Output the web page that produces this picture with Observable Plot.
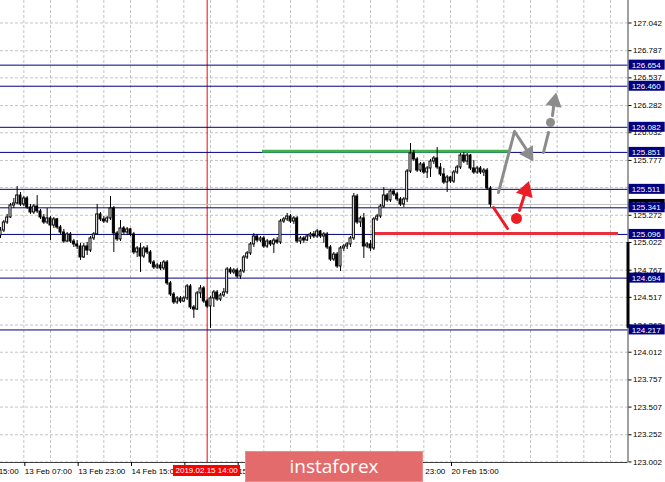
<!DOCTYPE html>
<html>
<head>
<meta charset="utf-8">
<script src="https://cdn.jsdelivr.net/npm/d3@7"></script>
<script src="https://cdn.jsdelivr.net/npm/@observablehq/plot@0.6"></script>
<style>
  html, body { margin: 0; padding: 0; background: #ffffff; }
  #wrap { position: relative; width: 665px; height: 482px; overflow: hidden; background: #ffffff; }
  #logo { position: absolute; background: #e36b6b; color: #ffffff; font-family: "Open Sans", sans-serif; font-size: 19px; text-align: center; box-sizing: border-box; border: 1px solid #e98c8c; }
  #stamp { position: absolute; background: #ff0000; color: #ffffff; font-family: "Liberation Sans", Arial, sans-serif; font-size: 8px; text-align: center; }
</style>
</head>
<body>
<div id="wrap"></div>
<script>
// ---- candle data (H1 bars, index 0 = 13 Feb 00:00) ----
const open = [
125.086,125.132,125.206,125.252,125.362,125.381,125.454,125.372,125.427,125.344,
125.298,125.353,125.307,125.252,125.206,125.243,125.178,125.234,125.160,125.114,
125.031,125.096,125.031,125.004,124.985,124.884,124.985,124.948,125.059,125.096,
125.280,125.234,125.215,125.243,125.335,125.105,125.050,125.151,125.114,125.142,
125.096,124.930,124.967,124.893,124.967,124.930,124.838,124.792,124.810,124.783,
124.838,124.645,124.543,124.470,124.507,124.479,124.507,124.617,124.424,124.405,
124.553,124.599,124.479,124.433,124.507,124.562,124.497,124.534,124.562,124.773,
124.746,124.764,124.709,124.755,124.884,124.921,125.004,125.077,125.040,125.059,
124.985,125.031,125.004,125.040,125.022,125.215,125.234,125.261,125.215,125.243,
125.031,125.059,125.040,125.077,125.096,125.077,125.123,125.077,125.096,124.976,
124.865,124.911,124.801,124.967,124.985,125.004,125.059,125.445,125.206,125.243,
124.985,125.004,124.967,125.234,125.261,125.353,125.454,125.409,125.491,125.464,
125.418,125.372,125.418,125.675,125.841,125.786,125.684,125.740,125.666,125.703,
125.767,125.795,125.712,125.648,125.574,125.620,125.583,125.666,125.712,125.822,
125.767,125.822,125.703,125.666,125.703,125.666,125.684,125.519];
const high = [
125.160,125.225,125.280,125.381,125.427,125.537,125.482,125.445,125.445,125.372,
125.372,125.454,125.326,125.280,125.335,125.261,125.252,125.243,125.178,125.142,
125.114,125.114,125.050,125.040,125.013,125.013,125.022,125.077,125.114,125.372,
125.298,125.261,125.261,125.445,125.353,125.123,125.225,125.169,125.160,125.151,
125.114,124.985,125.013,124.985,124.994,124.948,124.856,124.829,124.838,124.856,
124.856,124.663,124.562,124.525,124.525,124.525,124.635,124.635,124.442,124.571,
124.626,124.617,124.497,124.525,124.580,124.580,124.553,124.599,124.792,124.792,
124.783,124.783,124.773,124.902,124.939,125.022,125.105,125.096,125.077,125.077,
125.050,125.040,125.059,125.068,125.234,125.252,125.289,125.280,125.261,125.261,
125.077,125.077,125.096,125.114,125.123,125.142,125.132,125.114,125.114,124.994,
124.930,124.930,124.985,125.004,125.022,125.077,125.473,125.464,125.261,125.289,
125.022,125.040,125.252,125.280,125.372,125.528,125.473,125.510,125.510,125.482,
125.436,125.436,125.694,125.933,125.869,125.804,125.758,125.758,125.721,125.786,
125.813,125.896,125.749,125.703,125.639,125.629,125.684,125.731,125.841,125.850,
125.841,125.832,125.777,125.721,125.721,125.703,125.703,125.537];
const low = [
125.059,125.114,125.188,125.243,125.335,125.372,125.353,125.353,125.326,125.280,
125.280,125.289,125.234,125.188,125.188,125.040,125.151,125.142,125.096,125.013,
125.022,125.013,124.976,124.957,124.856,124.875,124.902,124.930,125.040,125.086,
125.215,125.197,125.197,125.225,124.930,125.031,125.031,125.096,125.086,125.077,
124.911,124.884,124.746,124.875,124.911,124.819,124.773,124.773,124.764,124.764,
124.626,124.525,124.451,124.451,124.460,124.470,124.488,124.405,124.323,124.396,
124.507,124.460,124.415,124.231,124.424,124.479,124.479,124.516,124.543,124.727,
124.727,124.691,124.681,124.737,124.865,124.902,124.976,125.022,125.022,124.967,
124.967,124.985,124.921,125.004,125.004,125.197,125.215,125.197,125.188,125.013,
125.004,125.013,125.031,125.050,125.059,125.059,125.059,125.013,124.957,124.847,
124.847,124.783,124.755,124.939,124.957,124.976,125.040,125.188,125.160,124.875,
124.967,124.939,124.948,125.215,125.243,125.335,125.390,125.390,125.445,125.399,
125.353,125.344,125.390,125.657,125.767,125.666,125.666,125.648,125.611,125.620,
125.740,125.694,125.629,125.556,125.482,125.565,125.565,125.648,125.694,125.749,
125.731,125.684,125.648,125.648,125.648,125.629,125.501,125.344];
const close = [
125.132,125.206,125.252,125.362,125.381,125.454,125.372,125.427,125.344,125.298,
125.353,125.307,125.252,125.206,125.243,125.178,125.234,125.160,125.114,125.031,
125.096,125.031,125.004,124.985,124.884,124.985,124.948,125.059,125.096,125.280,
125.234,125.215,125.243,125.335,125.105,125.050,125.151,125.114,125.142,125.096,
124.930,124.967,124.893,124.967,124.930,124.838,124.792,124.810,124.783,124.838,
124.645,124.543,124.470,124.507,124.479,124.507,124.617,124.424,124.405,124.553,
124.599,124.479,124.433,124.507,124.562,124.497,124.534,124.562,124.773,124.746,
124.764,124.709,124.755,124.884,124.921,125.004,125.077,125.040,125.059,124.985,
125.031,125.004,125.040,125.022,125.215,125.234,125.261,125.215,125.243,125.031,
125.059,125.040,125.077,125.096,125.077,125.123,125.077,125.096,124.976,124.865,
124.911,124.801,124.967,124.985,125.004,125.059,125.445,125.206,125.243,124.985,
125.004,124.967,125.234,125.261,125.353,125.454,125.409,125.491,125.464,125.418,
125.372,125.418,125.675,125.841,125.786,125.684,125.740,125.666,125.703,125.767,
125.795,125.712,125.648,125.574,125.620,125.583,125.666,125.712,125.822,125.767,
125.822,125.703,125.666,125.703,125.666,125.684,125.519,125.372];

// ---- horizontal levels and axis ticks ----
const levels = [126.654, 126.460, 126.082, 125.851, 125.511, 125.341, 125.096, 124.694, 124.217];
const yTicks = [127.042,126.787,126.537,126.282,126.032,125.777,125.527,125.272,125.022,
                124.767,124.517,124.262,124.012,123.757,123.507,123.252,123.002];
// tick labels that the reference covers completely with a price box
const yHiddenLabels = [125.527];
const xTickIdx = [-9, 7, 23, 39, 55, 71, 87, 103, 119, 135];
// empty strings: labels fully covered in the reference (by the time stamp / the logo)
const xTickLabels = ["12 Feb 15:00","13 Feb 07:00","13 Feb 23:00","14 Feb 15:00","",
                     "15 Feb 23:00","","","19 Feb 23:00","20 Feb 15:00"];
const gridIdx = [7,15,23,31,39,47,55,63,71,79,87,95,103,111,119,127,135,143,151,159,167,175,183];
const markerIdx = 62;
const markerLabel = "2019.02.15 14:00";
const xDomain = [0, 188.25];
const yDomain = [122.997, 127.249];

// ---- annotations (bar index, price) ----
const greenLevel = [{i1: 78.6, i2: 152.4, p: 125.862}];
const redLevel = [{i1: 111.6, i2: 185.4, p: 125.105}];
const grayLines = [
  {g: "a", i: 149.4, p: 125.482}, {g: "a", i: 154.2, p: 126.043}, {g: "a", i: 157.9, p: 125.872},
  {g: "b", i: 162.9, p: 125.850}, {g: "b", i: 164.4, p: 126.034},
  {g: "c", i: 165.6, p: 126.191}, {g: "c", i: 166.0, p: 126.290}];
const grayDots = [{i: 165.0, p: 126.126}];
const grayHeads = [{i: 158.4, p: 125.840, rot: 148}, {i: 166.2, p: 126.318, rot: 10}];
const redLines = [
  {g: "a", i: 147.9, p: 125.344}, {g: "a", i: 152.1, p: 125.151},
  {g: "b", i: 155.7, p: 125.316}, {g: "b", i: 157.3, p: 125.470}];
const redDots = [{i: 154.8, p: 125.243}];
const redHeads = [{i: 157.6, p: 125.500, rot: 18}];

const candles = close.map((c, i) => ({i, open: open[i], high: high[i], low: low[i], close: c}));
const bid = close[close.length - 1];
const labelOf = new Map(xTickIdx.map((d, k) => [d, xTickLabels[k]]));

const NAVY = "#000080";
const GRID = "#c4c4c4";
const FONT = "Liberation Sans, Arial, sans-serif";

const plot = Plot.plot({
  width: 665,
  height: 482,
  marginLeft: 0,
  marginRight: 37.5,
  marginTop: 0,
  marginBottom: 20,
  x: {domain: xDomain},
  y: {domain: yDomain},
  style: {fontFamily: FONT, fontSize: "8px", background: "#ffffff", color: "#000000", overflow: "visible"},
  marks: [
    Plot.gridY(yTicks, {stroke: GRID, strokeOpacity: 1, strokeDasharray: "3,2"}),
    Plot.gridX(gridIdx, {stroke: GRID, strokeOpacity: 1, strokeDasharray: "3,2"}),
    Plot.ruleX([markerIdx], {stroke: "#ff0000", strokeWidth: 1}),
    Plot.ruleY([bid], {stroke: "#c0c0c0", strokeWidth: 1}),
    Plot.ruleY(levels, {stroke: NAVY, strokeWidth: 1}),
    Plot.ruleY(greenLevel, {x1: "i1", x2: "i2", y: "p", stroke: "#3cb44b", strokeWidth: 3}),
    Plot.ruleY(redLevel, {x1: "i1", x2: "i2", y: "p", stroke: "#e8303c", strokeWidth: 3}),
    // candles
    Plot.ruleX(candles, {x: "i", y1: "low", y2: "high", stroke: "#000000", strokeWidth: 1}),
    Plot.rect(candles, {
      x1: d => d.i - 0.3, x2: d => d.i + 0.3, y1: "open", y2: "close",
      fill: d => d.close >= d.open ? "#ffffff" : "#000000", stroke: "#000000", strokeWidth: 1
    }),
    // annotations
    Plot.line(grayLines, {x: "i", y: "p", z: "g", stroke: "#8c8c8c", strokeWidth: 3}),
    Plot.dot(grayDots, {x: "i", y: "p", r: 4.5, fill: "#8c8c8c"}),
    Plot.dot(grayHeads, {x: "i", y: "p", symbol: "triangle", r: 6, rotate: "rot", fill: "#8c8c8c"}),
    Plot.line(redLines, {x: "i", y: "p", z: "g", stroke: "#ee1c25", strokeWidth: 3}),
    Plot.dot(redDots, {x: "i", y: "p", r: 5.5, fill: "#ee1c25"}),
    Plot.dot(redHeads, {x: "i", y: "p", symbol: "triangle", r: 6.5, rotate: "rot", fill: "#ee1c25"}),
    // frame (bottom + right)
    Plot.ruleY([yDomain[0]], {stroke: "#404040", strokeWidth: 1}),
    Plot.ruleX([xDomain[1]], {stroke: "#404040", strokeWidth: 1}),
    Plot.ruleX([xDomain[1]], {y1: 125.022, y2: 124.232, stroke: "#000000", strokeWidth: 3}),
    // axes
    Plot.axisY(yTicks, {anchor: "right", tickSize: 3, tickPadding: 2, fontSize: 8,
                        tickFormat: d => yHiddenLabels.includes(d) ? "" : d.toFixed(3)}),
    Plot.axisX(xTickIdx, {anchor: "bottom", tickSize: 4, tickPadding: 2, textAnchor: "start", dx: 1,
                          tickFormat: d => labelOf.get(d), fontSize: 8}),
    // price labels on the right axis
    Plot.rect([bid], {x1: 188.6, x2: 199.4, y1: d => d, y2: d => d, insetTop: -5, insetBottom: -5, fill: "#000000"}),
    Plot.text([bid], {x: 189.4, y: d => d, text: d => d.toFixed(3), textAnchor: "start", fill: "#ffffff", fontSize: 8}),
    Plot.rect(levels, {x1: 188.6, x2: 199.4, y1: d => d, y2: d => d, insetTop: -5, insetBottom: -5, fill: NAVY}),
    Plot.text(levels, {x: 189.4, y: d => d, text: d => d.toFixed(3), textAnchor: "start", fill: "#ffffff", fontSize: 8})
  ]
});

const wrap = document.getElementById("wrap");
wrap.appendChild(plot);

// red time stamp under the marker line
const mx = plot.scale("x").apply(markerIdx);
const stamp = document.createElement("div");
stamp.id = "stamp";
stamp.textContent = markerLabel;
stamp.style.left = (mx - 33.5) + "px";
stamp.style.top = "465px";
stamp.style.width = "67px";
stamp.style.height = "11px";
stamp.style.lineHeight = "11px";
wrap.appendChild(stamp);

// watermark logo
const logo = document.createElement("div");
logo.id = "logo";
logo.textContent = "instaforex";
logo.style.left = "245px";
logo.style.top = "451px";
logo.style.width = "178px";
logo.style.height = "31px";
logo.style.lineHeight = "29px";
wrap.appendChild(logo);
</script>
</body>
</html>
